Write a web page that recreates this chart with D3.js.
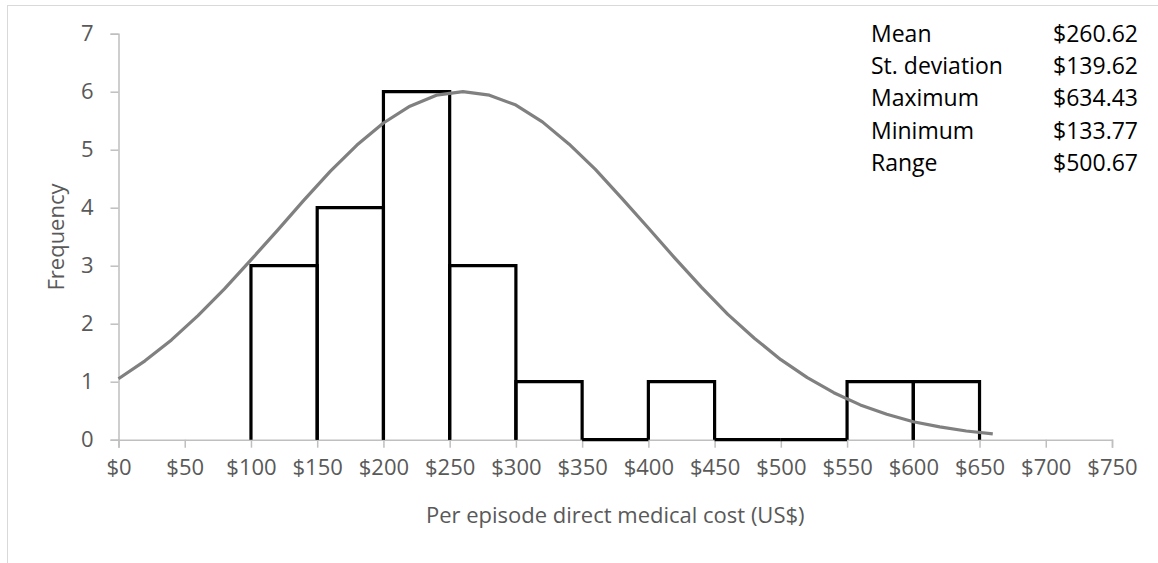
<!DOCTYPE html>
<html>
<head>
<meta charset="utf-8">
<script src="https://cdn.jsdelivr.net/npm/d3@7"></script>
<style>
  html, body { margin: 0; padding: 0; background: #fff; }
  svg { display: block; font-family: "Open Sans", sans-serif; }
</style>
</head>
<body>
<svg id="chart" width="1158" height="563"></svg>
<script>
// ---- data ----
const binStarts = [100, 150, 200, 250, 300, 350, 400, 450, 500, 550, 600];
const binCounts = [3, 4, 6, 3, 1, 0, 1, 0, 0, 1, 1];
const binWidth = 50;

const curveX = [0, 20, 40, 60, 80, 100, 120, 140, 160, 180, 200, 220, 240, 260, 280, 300, 320, 340, 360, 380, 400, 420, 440, 460, 480, 500, 520, 540, 560, 580, 600, 620, 640, 660];
const curveY = [1.05, 1.36, 1.72, 2.14, 2.60, 3.10, 3.61, 4.13, 4.63, 5.08, 5.46, 5.75, 5.94, 6.00, 5.94, 5.77, 5.48, 5.10, 4.66, 4.16, 3.65, 3.13, 2.63, 2.16, 1.75, 1.38, 1.07, 0.81, 0.60, 0.44, 0.31, 0.22, 0.15, 0.10];

const xTicks = [0, 50, 100, 150, 200, 250, 300, 350, 400, 450, 500, 550, 600, 650, 700, 750];
const yTicks = [0, 1, 2, 3, 4, 5, 6, 7];

const statLabels = ["Mean", "St. deviation", "Maximum", "Minimum", "Range"];
const statValues = ["$260.62", "$139.62", "$634.43", "$133.77", "$500.67"];

const xTitle = "Per episode direct medical cost (US$)";
const yTitle = "Frequency";

// ---- drawing ----
const svg = d3.select("#chart");

// outer chart border (extends past right/bottom edges)
svg.append("rect")
  .attr("x", 7.5).attr("y", 5.5)
  .attr("width", 1170).attr("height", 580)
  .attr("fill", "none").attr("stroke", "#d9d9d9").attr("stroke-width", 1);

const x = d3.scaleLinear().domain([0, 750]).range([118.5, 1112]);
const y = d3.scaleLinear().domain([0, 7]).range([439.7, 33.7]);

const tickColor = "#595959";
const axisColor = "#bfbfbf";

// y axis
const yAxis = svg.append("g").attr("transform", `translate(${x(0)},0)`)
  .call(d3.axisLeft(y).tickValues(yTicks).tickSize(8).tickPadding(17).tickFormat(d3.format("d")));
yAxis.select(".domain").attr("stroke", axisColor).attr("stroke-width", 1.5);
yAxis.selectAll(".tick line").attr("stroke", axisColor).attr("stroke-width", 1.5);
yAxis.selectAll(".tick text").attr("fill", tickColor)
  .style("font-size", "22px").style("font-family", "'Open Sans', sans-serif");

// x axis
const xAxis = svg.append("g").attr("transform", `translate(0,${y(0)})`)
  .call(d3.axisBottom(x).tickValues(xTicks).tickSize(8).tickPadding(12).tickFormat(d => "$" + d));
xAxis.select(".domain").attr("stroke", axisColor).attr("stroke-width", 1.5);
xAxis.selectAll(".tick line").attr("stroke", axisColor).attr("stroke-width", 1.5);
xAxis.selectAll(".tick text").attr("fill", tickColor)
  .style("font-size", "22px").style("font-family", "'Open Sans', sans-serif");

// histogram bars (open outline: left side, top, right side; no bottom edge)
svg.append("g").selectAll("path")
  .data(binStarts.map((s, i) => ({ s, c: binCounts[i] })))
  .join("path")
  .attr("d", d => {
    const p = d3.path();
    p.moveTo(x(d.s), y(0));
    p.lineTo(x(d.s), y(d.c));
    p.lineTo(x(d.s + binWidth), y(d.c));
    p.lineTo(x(d.s + binWidth), y(0));
    return p.toString();
  })
  .attr("fill", "none")
  .attr("stroke", "#000")
  .attr("stroke-width", 3.2)
  .attr("stroke-linejoin", "miter");

// normal curve
const line = d3.line().x(d => x(d[0])).y(d => y(d[1]));
svg.append("path")
  .datum(curveX.map((v, i) => [v, curveY[i]]))
  .attr("d", line)
  .attr("fill", "none")
  .attr("stroke", "#808080")
  .attr("stroke-width", 3.2)
  .attr("stroke-linejoin", "round");

// axis titles
svg.append("text")
  .attr("x", (x(0) + x(750)) / 2).attr("y", 523)
  .attr("text-anchor", "middle")
  .attr("fill", tickColor)
  .style("font-size", "22px")
  .text(xTitle);

svg.append("text")
  .attr("transform", `translate(64,237) rotate(-90)`)
  .attr("text-anchor", "middle")
  .attr("fill", tickColor)
  .style("font-size", "22px")
  .text(yTitle);

// stats box
const stats = svg.append("g");
statLabels.forEach((lab, i) => {
  stats.append("text")
    .attr("x", 871).attr("y", 41.5 + i * 32.4)
    .attr("fill", "#000").style("font-size", "23px")
    .text(lab);
  stats.append("text")
    .attr("x", 1138).attr("y", 41.5 + i * 32.4)
    .attr("text-anchor", "end")
    .attr("fill", "#000").style("font-size", "23px")
    .text(statValues[i]);
});
</script>
</body>
</html>
